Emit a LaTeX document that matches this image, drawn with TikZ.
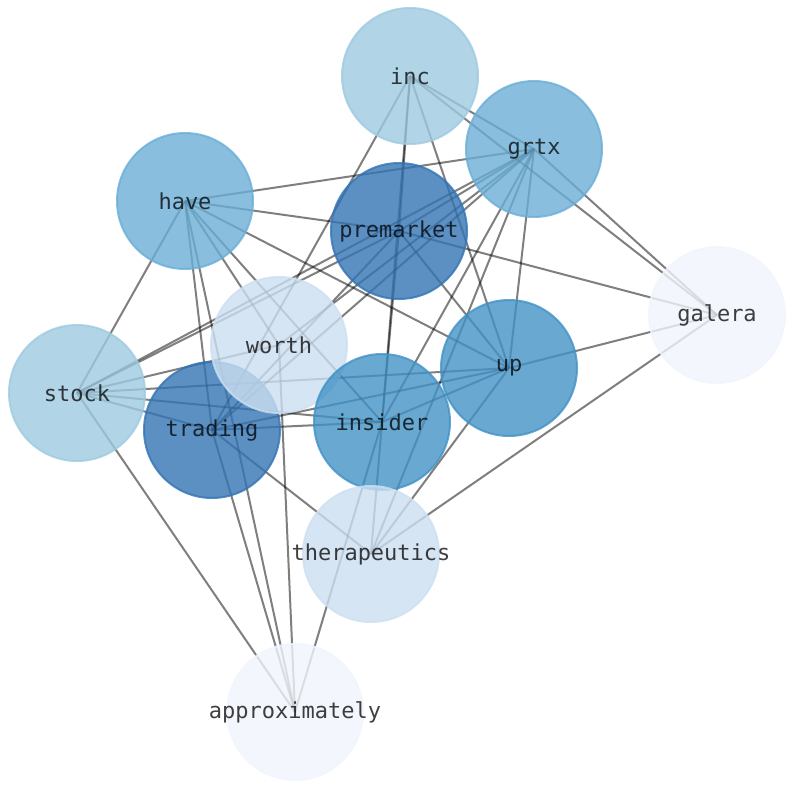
\documentclass[tikz,border=0pt]{standalone}
\usepackage{fontspec}
\setmonofont{DejaVu Sans Mono}
\usepackage{tikz}
\definecolor{wordA}{HTML}{3374B4}
\definecolor{wordB}{HTML}{4292C6}
\definecolor{wordC}{HTML}{6BAED6}
\definecolor{wordD}{HTML}{9ECAE1}
\definecolor{wordE}{HTML}{CCDFF1}
\definecolor{wordF}{HTML}{F0F5FC}
\newcommand{\wordtxt}[1]{\makebox[0pt]{#1}}
\pgfdeclarelayer{background}
\pgfsetlayers{background,main}
\tikzset{
  word/.style={circle, minimum size=136pt, inner sep=0pt, line width=2pt,
    fill opacity=0.8, draw opacity=0.8, text opacity=0.75,
    font=\ttfamily\fontsize{22pt}{26pt}\selectfont},
  link/.style={draw=black, draw opacity=0.5, line width=2pt}
}

\begin{document}
\begin{tikzpicture}[x=1pt, y=-1pt]
  \useasboundingbox (0,0) rectangle (794,790);

  % Word nodes
  \node[word, draw=wordD, fill=wordD] (inc) at (410,76) {\wordtxt{inc}};
  \node[word, draw=wordC, fill=wordC] (grtx) at (534,149) {\wordtxt{grtx}};
  \node[word, draw=wordC, fill=wordC] (have) at (185,201) {\wordtxt{have}};
  \node[word, draw=wordA, fill=wordA] (premarket) at (399,231) {\wordtxt{premarket}};
  \node[word, draw=wordF, fill=wordF] (galera) at (717,315) {\wordtxt{galera}};
  \node[word, draw=wordD, fill=wordD] (stock) at (77,393) {\wordtxt{stock}};
  \node[word, draw=wordA, fill=wordA] (trading) at (212,430) {\wordtxt{trading}};
  \node[word, draw=wordE, fill=wordE] (worth) at (279,345) {\wordtxt{worth}};
  \node[word, draw=wordB, fill=wordB] (up) at (509,368) {\wordtxt{up}};
  \node[word, draw=wordB, fill=wordB] (insider) at (382,422) {\wordtxt{insider}};
  \node[word, draw=wordE, fill=wordE] (therapeutics) at (371,554) {\wordtxt{therapeutics}};
  \node[word, draw=wordF, fill=wordF] (approximately) at (295,712) {\wordtxt{approximately}};

  % Co-occurrence links, behind the circles
  \begin{pgfonlayer}{background}
    \foreach \a/\b in {inc/grtx, inc/galera, inc/premarket, inc/insider, premarket/insider,
        inc/up, inc/trading,
        grtx/have, grtx/premarket, grtx/stock, grtx/worth, grtx/trading, grtx/insider,
        grtx/therapeutics, grtx/up, grtx/galera,
        have/premarket, have/up, have/insider, have/worth, have/stock,
        have/trading, have/approximately,
        premarket/galera, premarket/up, premarket/stock, premarket/trading,
        galera/up, galera/therapeutics,
        worth/approximately,
        up/stock, up/trading, up/insider, up/therapeutics,
        stock/worth, stock/insider, stock/trading, stock/approximately,
        trading/insider, trading/therapeutics, trading/approximately,
        insider/therapeutics, insider/approximately}
      \draw[link] (\a.center) -- (\b.center);
  \end{pgfonlayer}
\end{tikzpicture}
\end{document}
